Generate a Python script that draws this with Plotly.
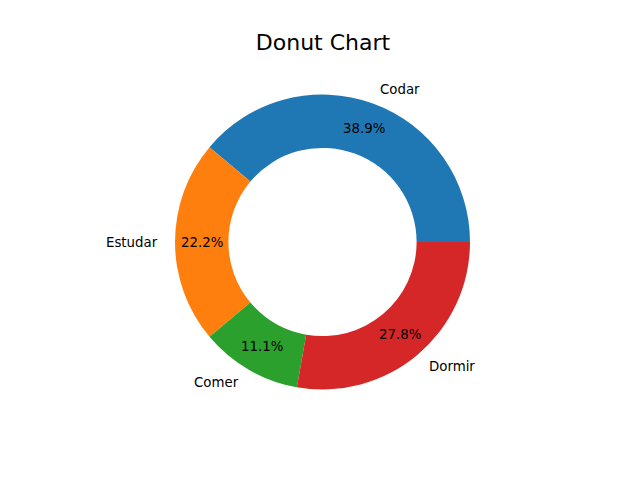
import numpy as np
import plotly.graph_objects as go

labels = ["Codar", "Estudar", "Comer", "Dormir"]
values = [7, 4, 2, 5]
colors = ["#1f77b4", "#ff7f0e", "#2ca02c", "#d62728"]

# page body has an 8px margin; figure sized to fit the 640x480 window
OFF = 8
W, H = 640 - OFF, 480 - OFF
cx, cy, r = 322.5 - OFF, 242 - OFF, 147.5

vals = np.array(values, dtype=float)
frac = vals / vals.sum()
cum = np.concatenate([[0], np.cumsum(frac)])
mid = (cum[:-1] + cum[1:]) / 2 * 2 * np.pi

# matplotlib-style: first wedge starts at 3 o'clock, going counterclockwise
rotation = 90 - 360 * frac[0]

fig = go.Figure(go.Pie(
    labels=labels, values=values, sort=False,
    direction="counterclockwise", rotation=rotation,
    hole=0.638, textinfo="none",
    marker=dict(colors=colors, line=dict(width=0)),
    domain=dict(x=[(cx - r) / W, (cx + r) / W], y=[1 - (cy + r) / H, 1 - (cy - r) / H]),
    showlegend=False,
))

FS = 13.33
ann = []
for lab, th, f in zip(labels, mid, frac):
    c, s = np.cos(th), np.sin(th)
    ann.append(dict(
        x=(cx + 1.1 * r * c) / W, y=1 - (cy - 1.1 * r * s) / H,
        xref="paper", yref="paper", text=lab, showarrow=False,
        xanchor="left" if c > 0 else "right", yanchor="middle",
        font=dict(size=FS, color="black", family="DejaVu Sans"),
    ))
    ann.append(dict(
        x=(cx + 0.82 * r * c) / W, y=1 - (cy - 0.82 * r * s) / H,
        xref="paper", yref="paper", text=f"{f*100:.1f}%", showarrow=False,
        xanchor="center", yanchor="middle",
        font=dict(size=FS, color="black", family="DejaVu Sans"),
    ))

fig.update_layout(
    width=W, height=H, margin=dict(l=0, r=0, t=0, b=0),
    paper_bgcolor="white", plot_bgcolor="white",
    font=dict(family="DejaVu Sans", color="black"),
    title=dict(text="Donut Chart", x=(323 - OFF) / W, xanchor="center",
               y=1 - (42 - OFF) / H, yanchor="middle",
               font=dict(size=22, color="black", family="DejaVu Sans")),
    annotations=ann,
)

fig.write_html("out.html")
